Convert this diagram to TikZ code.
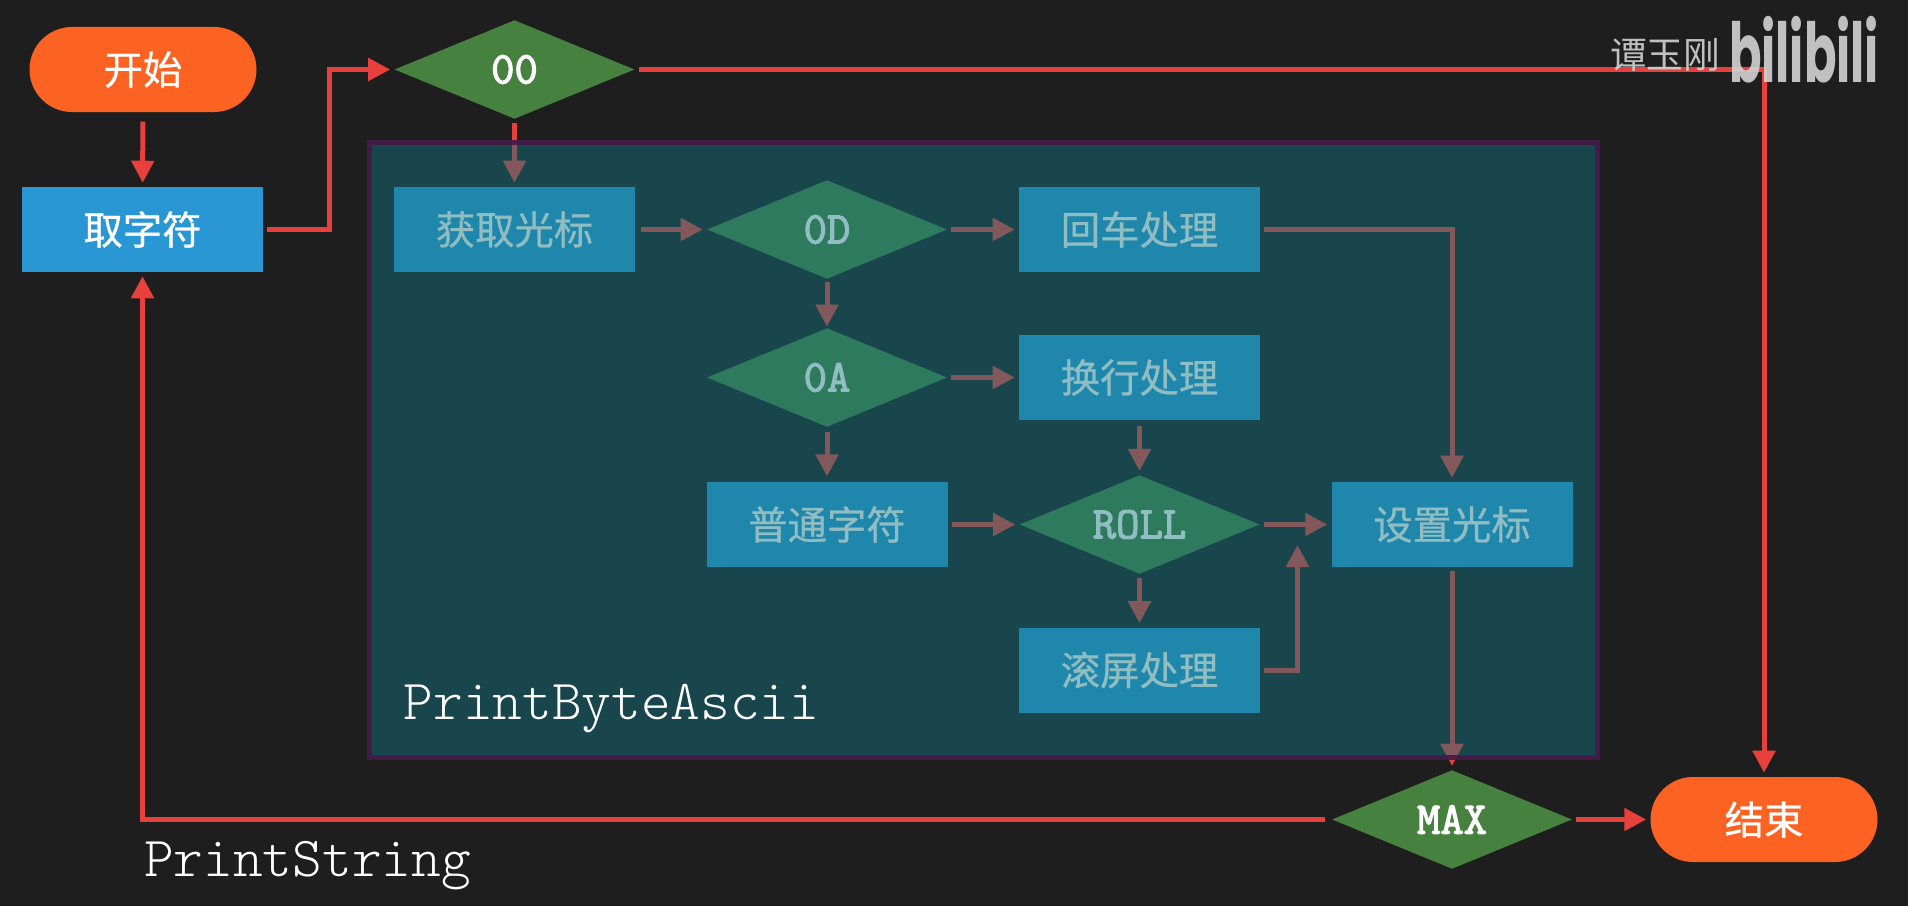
\documentclass[tikz,border=0pt]{standalone}
\usepackage{fontspec}
\setmonofont{Latin Modern Mono Light}
\newfontfamily\cjk{Noto Sans CJK SC}[FakeBold=0.7]
\newfontfamily\cjkmark{Noto Sans CJK SC}
\newfontfamily\decfont{Latin Modern Mono}[FakeBold=2.6]
\newfontfamily\logofont{Poppins}[BoldFont={Poppins Bold}]
\usetikzlibrary{arrows.meta,shapes.geometric,shapes.misc}

\definecolor{bgdark}{HTML}{1E1E1E}
\definecolor{orangeend}{HTML}{FC6222}
\definecolor{bluebox}{HTML}{2A97D5}
\definecolor{greendec}{HTML}{47813F}
\definecolor{redline}{HTML}{E8403C}
\definecolor{panelfill}{HTML}{14747F}
\definecolor{panelline}{HTML}{451A4A}
\definecolor{markgray}{HTML}{D2D2D2}

\tikzset{
  terminal/.style={rounded rectangle,fill=orangeend,text=white,minimum width=170.25pt,minimum height=63.75pt,inner sep=0pt,font=\cjk\fontsize{29.5pt}{29.5pt}\selectfont},
  procbox/.style={rectangle,fill=bluebox,text=white,minimum width=180.75pt,minimum height=63.75pt,inner sep=0pt,font=\cjk\fontsize{29.5pt}{29.5pt}\selectfont},
  decision/.style={diamond,aspect=2.4,fill=greendec,text=white,minimum width=180pt,minimum height=74pt,inner sep=0pt,font=\decfont\fontsize{34pt}{34pt}\selectfont},
  flowline/.style={draw=redline,line width=3.75pt,-{Triangle[length=16.5pt,width=16.5pt]},shorten <=3pt,shorten >=3pt},
  codelabel/.style={inner sep=0pt,anchor=base west,text=white,font=\ttfamily\fontsize{42.4pt}{42.4pt}\selectfont}
}

\begin{document}
\begin{tikzpicture}[x=.75pt,y=-.75pt]
    % Background
    \fill[bgdark] (0,0) rectangle (1908,906);

    % outer flow
    \node[terminal] (start) at (143,69.5) {开始};
    \node[procbox] (fetch) at (142.5,229.5) {取字符};
    \node[decision] (zero) at (514.5,69.5) {00};
    \node[decision] (max) at (1452,819.5) {MAX};
    \node[terminal] (end) at (1764,819.5) {结束};

    % inner flow
    \node[procbox] (getcursor) at (514.5,229.5) {获取光标};
    \node[decision] (cr) at (827,229.5) {0D};
    \node[procbox] (crproc) at (1139.5,229.5) {回车处理};
    \node[decision] (lf) at (827,377.5) {0A};
    \node[procbox] (lfproc) at (1139.5,377.5) {换行处理};
    \node[procbox] (normal) at (827,524.5) {普通字符};
    \node[decision] (roll) at (1139.5,524.5) {ROLL};
    \node[procbox] (setcursor) at (1452,524.5) {设置光标};
    \node[procbox] (scroll) at (1139.5,670) {滚屏处理};

    % free ends
    \coordinate (fetchbend) at (329.5,229.5);
    \coordinate (scrollend) at (1297.5,545);

    % arrows
    \draw[flowline,shorten <=7pt] (start) -- (fetch);
    \draw[flowline] (fetch.east) -- (fetchbend) |- (zero.west);
    \draw[flowline] (zero.east) -| (end.north);
    \draw[flowline,shorten <=3pt] (zero) -- (getcursor);
    \draw[flowline,shorten <=4pt] (getcursor) -- (cr);
    \draw[flowline,shorten <=2pt,shorten >=1pt] (cr) -- (lf);
    \draw[flowline] (cr) -- (crproc);
    \draw[flowline] (lf) -- (lfproc);
    \draw[flowline,shorten <=4pt,shorten >=4pt] (lf) -- (normal);
    \draw[flowline,shorten <=4pt] (lfproc) -- (roll);
    \draw[flowline] (normal) -- (roll);
    \draw[flowline] (roll) -- (setcursor);
    \draw[flowline] (roll) -- (scroll);
    \draw[flowline] (crproc.east) -| (setcursor.north);
    \draw[flowline,shorten >=0pt] (scroll.east) -| (scrollend);
    \draw[flowline] (setcursor) -- (max);
    \draw[flowline,shorten <=5pt] (max.west) -| (fetch.south);
    \draw[flowline] (max) -- (end);

    % panel over the inner flow
    \node[rectangle,minimum width=921pt,minimum height=461.25pt,inner sep=0pt,fill=panelfill,fill opacity=.475,draw=panelline,draw opacity=.92,line width=3.75pt] (panel) at (983.5,450) {};

    % labels
    \node[codelabel] (innername) at (403.5,719) {PrintByteAscii};
    \node[codelabel] (outername) at (144,876) {PrintString};

    % watermark
    \node[text=markgray,opacity=.9,inner sep=0pt,font=\cjkmark\fontsize{27.5pt}{27.5pt}\selectfont] (author) at (1665,55) {谭玉刚};
    \node[text=markgray,opacity=.9,inner sep=0pt,xscale=.58,font=\logofont\bfseries\fontsize{62pt}{62pt}\selectfont] (logo) at (1804,50) {bilibili};
\end{tikzpicture}
\end{document}
